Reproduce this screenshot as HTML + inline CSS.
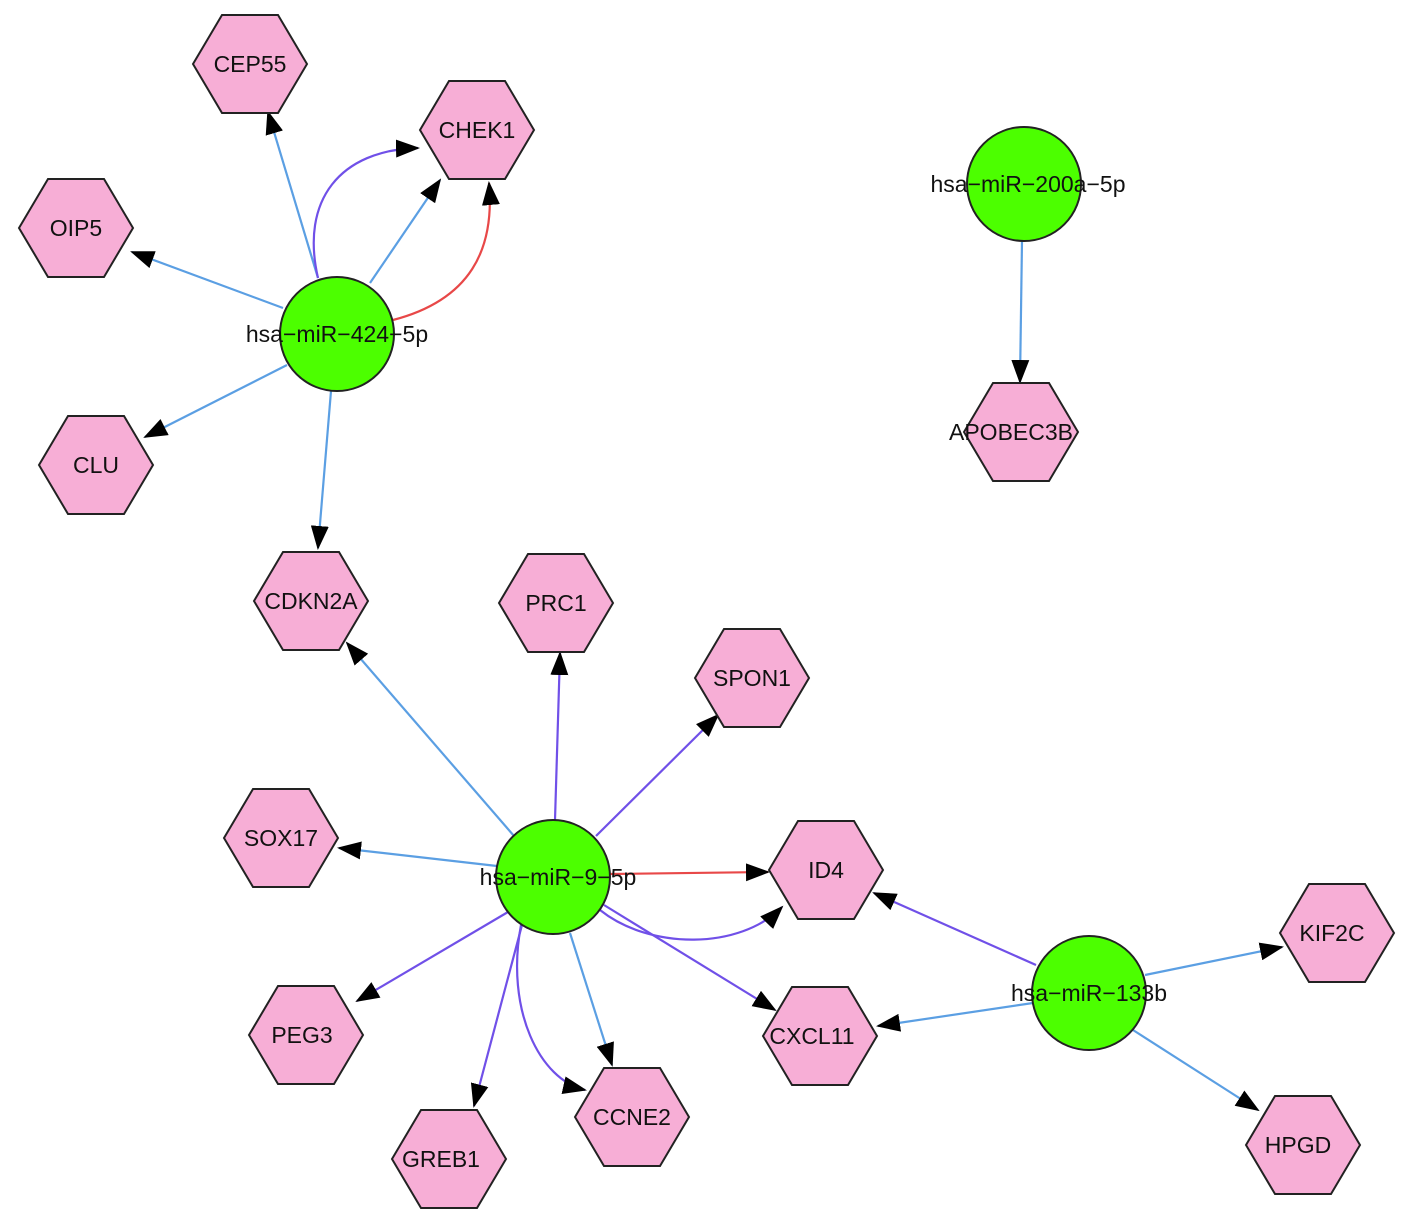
<!DOCTYPE html>
<html><head><meta charset="utf-8"><style>
html,body{margin:0;padding:0;background:#fff;}
svg{display:block;}
text{font-family:"Liberation Sans",sans-serif;font-size:23px;fill:#111;text-anchor:middle;dominant-baseline:central;}
</style></head><body>
<svg width="1417" height="1223" viewBox="0 0 1417 1223" xmlns="http://www.w3.org/2000/svg">
<defs>
<marker id="a" markerUnits="userSpaceOnUse" markerWidth="24" markerHeight="18" refX="22" refY="9" orient="auto"><path d="M0,0 L24,9 L0,18 z" fill="#000"/></marker>
<g id="hx"><polygon points="-57,0 -28,-49 28,-49 57,0 28,49 -28,49" fill="#f7aed6" stroke="#222" stroke-width="2"/></g>
</defs>
<g fill="none" stroke-width="2.2" marker-end="url(#a)">
<path d="M318,278 L268,112" stroke="#5b9fe3"/>
<path d="M318,278 C300,200 340,150 418,148" stroke="#7050e8"/>
<path d="M370,283 L440,180" stroke="#5b9fe3"/>
<path d="M393,320 C470,300 495,250 489,183" stroke="#e84848"/>
<path d="M283,308 L132,252" stroke="#5b9fe3"/>
<path d="M287,365 L145,437" stroke="#5b9fe3"/>
<path d="M331,391 L318,548" stroke="#5b9fe3"/>
<path d="M1022,241 L1020,382" stroke="#5b9fe3"/>
<path d="M514,836 L347,643" stroke="#5b9fe3"/>
<path d="M555,820 L560,653" stroke="#7050e8"/>
<path d="M596,836 L718,715" stroke="#7050e8"/>
<path d="M497,866 L339,848" stroke="#5b9fe3"/>
<path d="M610,874 L768,872" stroke="#e84848"/>
<path d="M600,910 C650,950 740,950 782,907" stroke="#7050e8"/>
<path d="M604,905 L775,1010" stroke="#7050e8"/>
<path d="M570,933 L612,1065" stroke="#5b9fe3"/>
<path d="M521,925 C505,1010 540,1080 585,1090" stroke="#7050e8"/>
<path d="M522,925 L474,1106" stroke="#7050e8"/>
<path d="M508,912 L357,1001" stroke="#7050e8"/>
<path d="M1036,965 L874,893" stroke="#7050e8"/>
<path d="M1033,1003 L878,1026" stroke="#5b9fe3"/>
<path d="M1145,975 L1282,947" stroke="#5b9fe3"/>
<path d="M1133,1030 L1258,1110" stroke="#5b9fe3"/>
</g>
<g fill="#4cff00" stroke="#222" stroke-width="2">
<circle cx="337" cy="334" r="57"/>
<circle cx="1024" cy="184" r="57"/>
<circle cx="553" cy="877" r="57"/>
<circle cx="1089" cy="993" r="57"/>
</g>
<use href="#hx" x="250" y="64"/><text x="250" y="64">CEP55</text>
<use href="#hx" x="477" y="130"/><text x="477" y="130">CHEK1</text>
<use href="#hx" x="76" y="228"/><text x="76" y="228">OIP5</text>
<use href="#hx" x="96" y="465"/><text x="96" y="465">CLU</text>
<use href="#hx" x="311" y="601"/><text x="311" y="601">CDKN2A</text>
<use href="#hx" x="556" y="603"/><text x="556" y="603">PRC1</text>
<use href="#hx" x="752" y="678"/><text x="752" y="678">SPON1</text>
<use href="#hx" x="1021" y="432"/><text x="1011" y="432">APOBEC3B</text>
<use href="#hx" x="281" y="838"/><text x="281" y="838">SOX17</text>
<use href="#hx" x="826" y="870"/><text x="826" y="870">ID4</text>
<use href="#hx" x="1337" y="933"/><text x="1332" y="933">KIF2C</text>
<use href="#hx" x="306" y="1035"/><text x="302" y="1035">PEG3</text>
<use href="#hx" x="820" y="1036"/><text x="812" y="1036">CXCL11</text>
<use href="#hx" x="449" y="1159"/><text x="441" y="1159">GREB1</text>
<use href="#hx" x="632" y="1117"/><text x="632" y="1117">CCNE2</text>
<use href="#hx" x="1303" y="1145"/><text x="1298" y="1145">HPGD</text>
<text x="337" y="334">hsa−miR−424−5p</text>
<text x="1028" y="184">hsa−miR−200a−5p</text>
<text x="558" y="877">hsa−miR−9−5p</text>
<text x="1089" y="993">hsa−miR−133b</text>
</svg>
</body></html>
